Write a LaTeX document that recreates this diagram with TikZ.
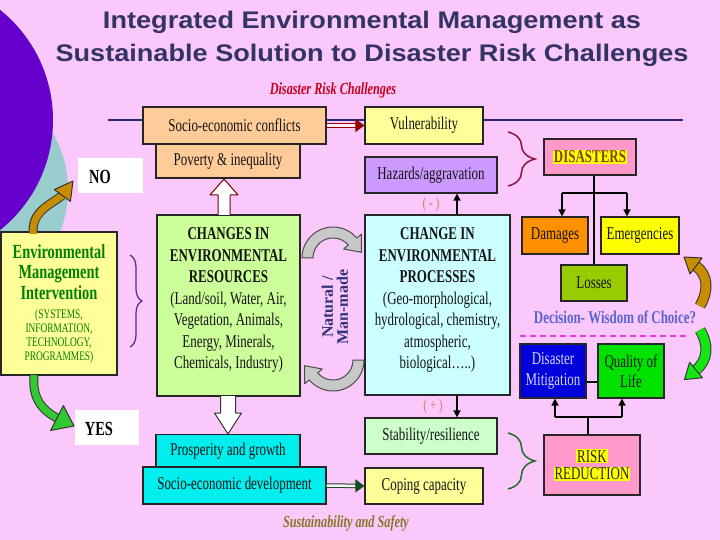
\documentclass[tikz,border=0pt]{standalone}
\usepackage{fontspec}
\setmainfont{Liberation Serif}
\newfontfamily\sansW[FakeStretch=1.13]{Liberation Sans}
\newfontfamily\nserif[FakeStretch=0.72]{Liberation Serif}
\usetikzlibrary{arrows.meta,decorations.pathreplacing,calc}
\definecolor{bgpink}{RGB}{250,200,250}
\definecolor{titleblue}{RGB}{51,51,102}
\definecolor{circpurple}{RGB}{102,0,204}
\definecolor{circteal}{RGB}{153,204,204}
\definecolor{navyline}{RGB}{40,40,120}
\definecolor{peach}{RGB}{255,204,153}
\definecolor{lyellow}{RGB}{255,255,153}
\definecolor{lavender}{RGB}{204,153,255}
\definecolor{pinkbox}{RGB}{255,153,204}
\definecolor{orangebox}{RGB}{255,145,0}
\definecolor{yellowbox}{RGB}{255,255,0}
\definecolor{olivebox}{RGB}{153,204,0}
\definecolor{bluebox}{RGB}{0,0,220}
\definecolor{greenbox}{RGB}{0,225,0}
\definecolor{lgreen}{RGB}{204,255,153}
\definecolor{lcyan}{RGB}{204,255,255}
\definecolor{mint}{RGB}{204,255,204}
\definecolor{cyanbox}{RGB}{0,238,238}
\definecolor{darkred}{RGB}{150,0,0}
\definecolor{titlered}{RGB}{200,0,30}
\definecolor{bracered}{RGB}{140,20,60}
\definecolor{bracegreen}{RGB}{30,110,40}
\definecolor{bracepurple}{RGB}{80,40,140}
\definecolor{decblue}{RGB}{90,100,210}
\definecolor{dashmag}{RGB}{230,60,230}
\definecolor{sustain}{RGB}{130,120,40}
\definecolor{envgreen}{RGB}{0,128,0}
\definecolor{natblue}{RGB}{50,50,120}
\definecolor{signcol}{RGB}{220,120,100}
\definecolor{goldarrow}{RGB}{200,140,0}
\definecolor{greenarrow}{RGB}{50,200,50}
\definecolor{greenarrowB}{RGB}{20,230,20}
\definecolor{grayarrow}{RGB}{200,200,200}
\definecolor{textdark}{RGB}{20,20,20}
\definecolor{hilite}{RGB}{255,255,0}
\definecolor{distext}{RGB}{130,70,0}
\definecolor{mittext}{RGB}{210,215,255}
\definecolor{rrtext}{RGB}{40,40,0}
\tikzset{
  box/.style={draw=black!85, line width=1.2pt, inner sep=0pt, align=center, text=textdark,
    font=\nserif\fontsize{18}{20.5}\selectfont},
  bodytext/.style={inner sep=0pt, align=center, text=textdark, font=\nserif\fontsize{18}{21.5}\selectfont},
  blackarrow/.style={draw=black, line width=1.5pt, -{Triangle[length=7pt,width=7pt]}},
  thinline/.style={draw=black, line width=1.2pt},
  blockout/.style={line width=1pt, line join=round},
  bracestyle/.style={decorate, line width=1.5pt},
  titlefont/.style={font=\sansW\bfseries\fontsize{24}{29}\selectfont, text=titleblue},
}
\begin{document}
\begin{tikzpicture}[x=1pt,y=-1pt]
\useasboundingbox (0,0) rectangle (720,540);
\fill[bgpink] (0,0) rectangle (720,540);
\begin{scope}
\clip (0,0) rectangle (720,540);
\fill[circteal] (-47,190) circle (115pt);
\fill[circpurple] (-88,120) circle (141pt);
\end{scope}

% title
\node[anchor=base, titlefont] (t1) at (372,28.5) {Integrated Environmental Management as};
\node[anchor=base, titlefont] (t2) at (372,62) {Sustainable Solution to Disaster Risk Challenges};
\node[anchor=base, font=\nserif\bfseries\itshape\fontsize{17}{20}\selectfont, text=titlered] (drc) at (333,95) {Disaster Risk Challenges};

% navy line
\coordinate (nl1) at (108,120);
\coordinate (nl2) at (683,120);
\draw[navyline, line width=2pt] (nl1) -- (nl2);

% top boxes
\node[box, fill=peach, minimum width=144pt, minimum height=34pt] (pov) at (228,161) {Poverty \& inequality};
\node[box, fill=peach, minimum width=183pt, minimum height=37pt] (sec) at (234.5,125.5) {Socio-economic conflicts};
\node[box, fill=lyellow, minimum width=118pt, minimum height=37pt] (vul) at (424,125.5) {Vulnerability};
\node[box, fill=lavender, minimum width=132pt, minimum height=36pt] (haz) at (431,175) {Hazards/aggravation};

\draw[darkred, line width=1pt, double=bgpink!40!white, double distance=2.5pt, -{Triangle[length=9pt,width=13pt]}] (sec.east) -- (vul.west);

% disasters side
\node[box, fill=pinkbox, minimum width=92pt, minimum height=36pt] (dis) at (590,157)
  {\setlength{\fboxsep}{1pt}\colorbox{hilite}{\textcolor{distext}{\bfseries DISASTERS}}};
\draw[bracered, bracestyle, decoration={brace, amplitude=27pt}] (508,132) -- (508,186);

\node[box, fill=orangebox, minimum width=66pt, minimum height=37pt] (dam) at (555,235.5) {Damages};
\node[box, fill=yellowbox, minimum width=78pt, minimum height=37pt] (eme) at (640,235.5) {Emergencies};
\node[box, fill=olivebox, minimum width=66pt, minimum height=36pt] (los) at (594,283) {Losses};
\coordinate (b1) at (562,193);
\coordinate (b2) at (627,193);
\draw[thinline] (dis.south -| los.north) -- (los.north);
\draw[thinline] (b1) -- (b2);
\draw[blackarrow] (b1) -- (b1 |- dam.north);
\draw[blackarrow] (b2) -- (b2 |- eme.north);

\node[anchor=center, font=\nserif\bfseries\fontsize{18}{20}\selectfont, text=decblue] (dec) at (615,317) {Decision- Wisdom of Choice?};
\coordinate (dl1) at (520,336);
\coordinate (dl2) at (688,336);
\draw[dashmag, line width=2pt, dash pattern=on 6pt off 4pt] (dl1) -- (dl2);

\node[box, fill=bluebox, text=mittext, minimum width=66pt, minimum height=54pt] (dm) at (553,371) {Disaster\\Mitigation};
\node[box, fill=greenbox, minimum width=66pt, minimum height=54pt] (ql) at (631,371) {Quality of\\Life};
\draw[thinline] (dm.east |- 0,382) -- (ql.west |- 0,382);

\node[box, fill=pinkbox, text=rrtext, minimum width=96pt, minimum height=60pt] (rr) at (592,465)
  {\setlength{\fboxsep}{1pt}\colorbox{hilite}{RISK}\\[-3pt]\setlength{\fboxsep}{1pt}\colorbox{hilite}{REDUCTION}};
\coordinate (r0) at (588,417);
\coordinate (r1) at (555,417);
\coordinate (r2) at (622,417);
\draw[thinline] (rr.north -| r0) -- (r0);
\draw[thinline] (r1) -- (r2);
\draw[blackarrow] (r1) -- (r1 |- dm.south);
\draw[blackarrow] (r2) -- (r2 |- ql.south);
\draw[bracegreen, bracestyle, decoration={brace, amplitude=27pt}] (508,433) -- (508,489);

% bottom boxes
\node[box, fill=mint, minimum width=132pt, minimum height=36pt] (stb) at (431,436) {Stability/resilience};
\node[box, fill=lyellow, minimum width=118pt, minimum height=36pt] (cop) at (424,486) {Coping capacity};
\node[box, fill=cyanbox, minimum width=144pt, minimum height=33pt] (pro) at (228,451) {Prosperity and growth};
\node[box, fill=cyanbox, minimum width=183pt, minimum height=37pt] (sed) at (234.5,485.5) {Socio-economic development};
\draw[bracegreen!70!black, line width=1pt, double=white!70!bgpink, double distance=2.5pt, -{Triangle[length=9pt,width=13pt]}] (sed.east) -- (cop.west);
\node[anchor=base, font=\nserif\bfseries\itshape\fontsize{17}{20}\selectfont, text=sustain] (sus) at (346,527) {Sustainability and Safety};

% central boxes
\node[box, fill=lgreen, minimum width=143pt, minimum height=181pt] (res) at (228.5,305.5) {};
\node[bodytext] (resT) at (228.5,300) {\textbf{CHANGES IN}\\\textbf{ENVIRONMENTAL}\\\textbf{RESOURCES}\\(Land/soil, Water, Air,\\Vegetation, Animals,\\Energy, Minerals,\\Chemicals, Industry)};
\node[box, fill=lcyan, minimum width=145pt, minimum height=180pt] (prc) at (437.5,305) {};
\node[bodytext] (prcT) at (437.5,300) {\textbf{CHANGE IN}\\\textbf{ENVIRONMENTAL}\\\textbf{PROCESSES}\\(Geo-morphological,\\hydrological, chemistry,\\atmospheric,\\biological\ldots..)};

\draw[blackarrow] (prc.north -| 457,0) -- (haz.south -| 457,0);
\draw[blackarrow] (prc.south -| 457,0) -- (stb.north -| 457,0);
\node[font=\nserif\fontsize{16}{18}\selectfont, text=signcol] (minus) at (431,205) {(\,-\,)};
\node[font=\nserif\fontsize{16}{18}\selectfont, text=signcol] (plus) at (433,407) {(\,+\,)};

% white block arrows
\filldraw[fill=white, draw=darkred!80!black, blockout] (218,215) -- (218,195) -- (210,195) -- (224,179) -- (238,195) -- (230,195) -- (230,215);
\filldraw[fill=white, draw=black!80, blockout] (220.5,396) -- (220.5,413) -- (214.5,413) -- (228,434) -- (241.5,413) -- (235.5,413) -- (235.5,396);

% gray curved arrows
\filldraw[fill=grayarrow, draw=black!70, blockout] (302,258) arc[start angle=180, end angle=40, radius=31pt] -- (361.3,234.2) -- (361.5,252.3) -- (343.7,249) -- (348.3,245.1) arc[start angle=40, end angle=180, radius=20pt] -- cycle;
\filldraw[fill=grayarrow, draw=black!70, blockout] (364,360) arc[start angle=0, end angle=-140, radius=31pt] -- (304.7,383.8) -- (304.5,365.7) -- (322.3,369) -- (317.7,372.9) arc[start angle=-140, end angle=0, radius=20pt] -- cycle;
\node[rotate=90, align=center, font=\bfseries\fontsize{16}{15}\selectfont, text=natblue] (nat) at (335,307) {Natural /\\Man-made};

% environmental management box
\node[box, fill=lyellow, minimum width=116pt, minimum height=143pt] (env) at (59,303.5) {};
\node[align=center, inner sep=0pt, text=envgreen, font=\nserif\bfseries\fontsize{20}{20.5}\selectfont] (envT1) at (59,272) {Environmental\\Management\\Intervention};
\node[align=center, inner sep=0pt, text=envgreen, font=\nserif\fontsize{13}{14}\selectfont] (envT2) at (59,336) {(SYSTEMS,\\INFORMATION,\\TECHNOLOGY,\\PROGRAMMES)};
\draw[bracepurple, bracestyle, line width=1.2pt, decoration={brace, amplitude=12pt}] (130,255) -- (130,347);

% NO / YES
\node[fill=white, minimum width=65pt, minimum height=35pt, inner sep=0pt] (no) at (110.5,175.5) {};
\node[font=\nserif\bfseries\fontsize{20}{22}\selectfont] (noT) at (100,177) {NO};
\node[fill=white, minimum width=64pt, minimum height=35pt, inner sep=0pt] (yes) at (107,427.5) {};
\node[font=\nserif\bfseries\fontsize{20}{22}\selectfont] (yesT) at (99,429) {YES};

% left curved arrows
\draw[black!80, line width=9pt] (33,233) .. controls (32,212) and (48,206) .. (62.3,195.5);
\draw[goldarrow, line width=7pt] (33,234) .. controls (32,212) and (48,206) .. (62.3,195.5);
\filldraw[fill=goldarrow, draw=black!80, blockout] (73,181) -- (70.4,201.4) -- (54.3,189.6) -- cycle;

\draw[black!80, line width=9pt] (34,376) .. controls (32,398) and (42,410) .. (57,418);
\draw[greenarrow, line width=7pt] (34,375) .. controls (32,398) and (42,410) .. (57,418);
\filldraw[fill=greenarrow, draw=black!80, blockout] (74,426) -- (50.6,430.4) -- (63.4,405.6) -- cycle;

% right curved arrows
\draw[black!80, line width=11pt] (700,306) .. controls (709,290) and (708,275) .. (696,266);
\draw[goldarrow, line width=9pt] (700,306) .. controls (709,290) and (708,275) .. (696,266);
\filldraw[fill=goldarrow, draw=black!80, blockout] (684,257) -- (702,258) -- (690,274) -- cycle;

\draw[black!80, line width=11pt] (700,330) .. controls (709,345) and (708,360) .. (696,370);
\draw[greenarrowB, line width=9pt] (700,330) .. controls (709,345) and (708,360) .. (696,370);
\filldraw[fill=greenarrowB, draw=black!80, blockout] (684.5,379.6) -- (702.4,377.7) -- (689.6,362.3) -- cycle;
\end{tikzpicture}
\end{document}
